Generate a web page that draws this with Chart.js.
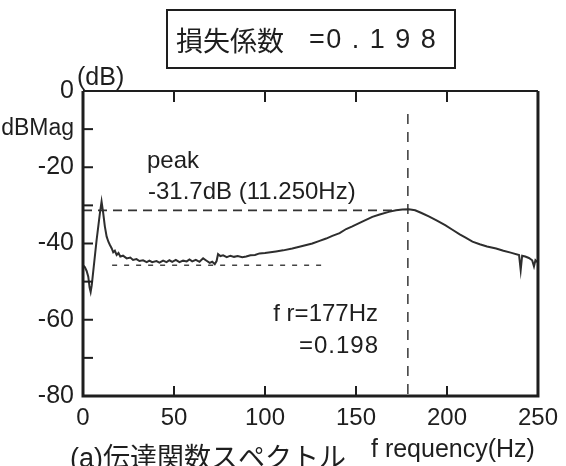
<!DOCTYPE html>
<html>
<head>
<meta charset="utf-8">
<script src="https://cdn.jsdelivr.net/npm/chart.js@4/dist/chart.umd.min.js"></script>
<style>
html,body{margin:0;padding:0;background:#fff;}
canvas{display:block;}
</style>
</head>
<body>
<canvas id="c" width="566" height="466"></canvas>
<script>
// ---- data ----
const freq = [0, 1, 2, 2.9, 3.6, 4.2, 4.8, 5.7, 6.6, 7.5, 8.4, 9.3, 10.2, 11.1, 12, 13, 14, 14.8, 15.8, 16.6,
  17.5, 18.5, 19.5, 20.5, 22, 24, 26, 27.5, 29.4, 31, 33, 35, 36.5, 38, 40.4, 42, 44, 45.9, 47.5, 49,
  51, 53, 55, 57, 58.5, 60, 62, 64, 66, 67.5, 69.6, 71, 72.4, 73.4, 74.2, 75.5, 77, 79, 81, 83,
  85, 87.5, 89.7, 92, 94.5, 97, 100, 103, 106, 110, 115, 120, 126, 130, 133.6, 137, 141, 144.6, 148, 152,
  155.5, 159, 163, 168, 172, 175.5, 179, 182.5, 186, 190, 194.5, 199, 203, 207, 210, 214, 218, 222, 227, 231,
  235, 239.6, 240.5, 241.3, 243, 245, 246.8, 247.8, 248.6, 249.5, 250];
const magDb = [-45.7, -46.2, -47.2, -48.7, -51.5, -52.7, -51, -47, -43, -39, -35.5, -32, -29, -32, -35.5, -38.2, -39.6, -40.4, -41.3, -42.3,
  -41.9, -43, -42.5, -43.4, -43.2, -43.9, -43.7, -44.3, -44.1, -44.6, -44.4, -44.9, -44.5, -44.9, -44.6, -45, -44.5, -44.9, -44.4, -44.8,
  -44.3, -44.9, -44.5, -44.7, -44.2, -44.7, -44.3, -44.8, -43.9, -44.4, -45.1, -44.8, -45.4, -44.6, -42.8, -43.3, -43.1, -43.6, -43.2, -43.5,
  -43.3, -43.6, -43.4, -43.1, -43.0, -42.6, -42.5, -42.3, -42.1, -41.8, -41.3, -40.7, -40.0, -39.3, -38.7, -38.0, -37.3, -36.2, -35.5, -34.6,
  -33.8, -33.0, -32.4, -31.7, -31.3, -31.1, -31.0, -31.3, -32.0, -32.9, -34.0, -35.2, -36.4, -37.6, -38.4, -39.5, -40.2, -40.8, -41.3, -41.9,
  -42.4, -43.0, -47.0, -43.2, -43.4, -43.8, -44.4, -46.0, -44.4, -44.8, -44.7];

const peakLineX = [0, 171];
const peakLineY = [-31.3, -31.3];
const floorLineX = [16, 131];
const floorLineY = [-45.7, -45.7];
const resonanceX = [178.5, 178.5];
const resonanceY = [-6, -80];

const xTickValues = [0, 50, 100, 150, 200, 250];
const yTickValues = [0, -10, -20, -30, -40, -50, -60, -70, -80];
const yTickLabels = {"0": "0", "-10": "dBMag", "-20": "-20", "-40": "-40", "-60": "-60", "-80": "-80"};

const titleLeft = "損失係数";
const titleRight = "=0 . 1 9 8";
const yUnit = "(dB)";
const peakLabel1 = "peak";
const peakLabel2 = "-31.7dB (11.250Hz)";
const frLabel1 = "f r=177Hz";
const frLabel2 = "=0.198";
const xAxisLabel = "f requency(Hz)";
const caption = "(a)伝達関数スペクトル";

// ---- helpers ----
const toPts = (xs, ys) => xs.map((x, i) => ({x: x, y: ys[i]}));
const SANS = '"Liberation Sans", Arial, "Noto Sans CJK JP", sans-serif';
const INK = '#1e1e1e';

const decor = {
  id: 'decor',
  afterDraw(chart) {
    const ctx = chart.ctx;
    const a = chart.chartArea;
    const xs = chart.scales.x, ys = chart.scales.y;
    ctx.save();
    ctx.strokeStyle = INK;
    ctx.fillStyle = INK;
    // frame
    ctx.lineWidth = 3;
    ctx.beginPath();
    ctx.moveTo(a.left, a.top); ctx.lineTo(a.left, a.bottom); ctx.lineTo(a.right, a.bottom); ctx.lineTo(a.right, a.top);
    ctx.stroke();
    ctx.lineWidth = 2.2;
    ctx.beginPath(); ctx.moveTo(a.left, a.top); ctx.lineTo(a.right, a.top); ctx.stroke();
    // inward ticks
    ctx.lineWidth = 2;
    xTickValues.forEach(v => {
      if (v === 0 || v === 250) return;
      const px = xs.getPixelForValue(v);
      ctx.beginPath(); ctx.moveTo(px, a.top); ctx.lineTo(px, a.top + 11); ctx.stroke();
      ctx.beginPath(); ctx.moveTo(px, a.bottom); ctx.lineTo(px, a.bottom - 10); ctx.stroke();
    });
    yTickValues.forEach(v => {
      if (v === 0 || v === -80) return;
      const py = ys.getPixelForValue(v);
      ctx.beginPath(); ctx.moveTo(a.left, py); ctx.lineTo(a.left + 10, py); ctx.stroke();
    });
    // title box
    ctx.lineWidth = 2;
    ctx.strokeRect(167, 10, 288, 58);
    ctx.textBaseline = 'middle';
    ctx.textAlign = 'left';
    ctx.font = '27px "Noto Sans CJK JP", sans-serif';
    ctx.fillText(titleLeft, 176, 41);
    ctx.font = '27px ' + SANS;
    ctx.letterSpacing = '1.5px';
    ctx.fillText(titleRight, 309, 41);
    ctx.letterSpacing = '0px';
    // unit
    ctx.font = '25px ' + SANS;
    ctx.fillText(yUnit, 77, 78);
    // annotations
    ctx.font = '24px ' + SANS;
    ctx.fillText(peakLabel1, 147, 161);
    ctx.fillText(peakLabel2, 148, 192);
    ctx.textAlign = 'right';
    ctx.fillText(frLabel1, 378, 314);
    ctx.letterSpacing = '1px';
    ctx.fillText(frLabel2, 379, 346);
    ctx.letterSpacing = '0px';
    // x axis title
    ctx.textAlign = 'left';
    ctx.textBaseline = 'alphabetic';
    ctx.font = '25px ' + SANS;
    ctx.fillText(xAxisLabel, 371, 457);
    // caption
    ctx.textBaseline = 'middle';
    ctx.font = '27px "Liberation Sans", "Noto Sans CJK JP", sans-serif';
    ctx.fillText(caption, 70, 460);
    ctx.restore();
  }
};

new Chart(document.getElementById('c'), {
  type: 'line',
  data: {
    datasets: [
      {data: toPts(freq, magDb), borderColor: '#2e2e2e', borderWidth: 2, pointRadius: 0, tension: 0},
      {data: toPts(peakLineX, peakLineY), borderColor: '#333', borderWidth: 1.8, borderDash: [9, 6], pointRadius: 0},
      {data: toPts(floorLineX, floorLineY), borderColor: '#444', borderWidth: 1.6, borderDash: [5, 7], pointRadius: 0},
      {data: toPts(resonanceX, resonanceY), borderColor: '#444', borderWidth: 1.6, borderDash: [10, 8], pointRadius: 0}
    ]
  },
  options: {
    responsive: false,
    animation: false,
    devicePixelRatio: 1,
    layout: {padding: {top: 91, right: 27, left: 0, bottom: 0}},
    plugins: {legend: {display: false}, tooltip: {enabled: false}, title: {display: false}},
    scales: {
      x: {
        type: 'linear', min: 0, max: 250,
        grid: {display: false, drawTicks: false}, border: {display: false},
        afterFit: s => { s.height = 70; },
        afterBuildTicks: s => { s.ticks = xTickValues.map(v => ({value: v})); },
        ticks: {autoSkip: false, maxRotation: 0, padding: 8, color: INK, font: {family: SANS, size: 24}}
      },
      y: {
        type: 'linear', min: -80, max: 0,
        grid: {display: false, drawTicks: false}, border: {display: false},
        afterFit: s => { s.width = 83; },
        afterBuildTicks: s => { s.ticks = yTickValues.map(v => ({value: v})); },
        ticks: {autoSkip: false, padding: 9, color: INK,
          font: c => ({family: SANS, size: (c.tick && c.tick.value === -10) ? 23 : 25}),
          callback: v => (yTickLabels[String(v)] !== undefined ? yTickLabels[String(v)] : '')}
      }
    }
  },
  plugins: [decor]
});
</script>
</body>
</html>
